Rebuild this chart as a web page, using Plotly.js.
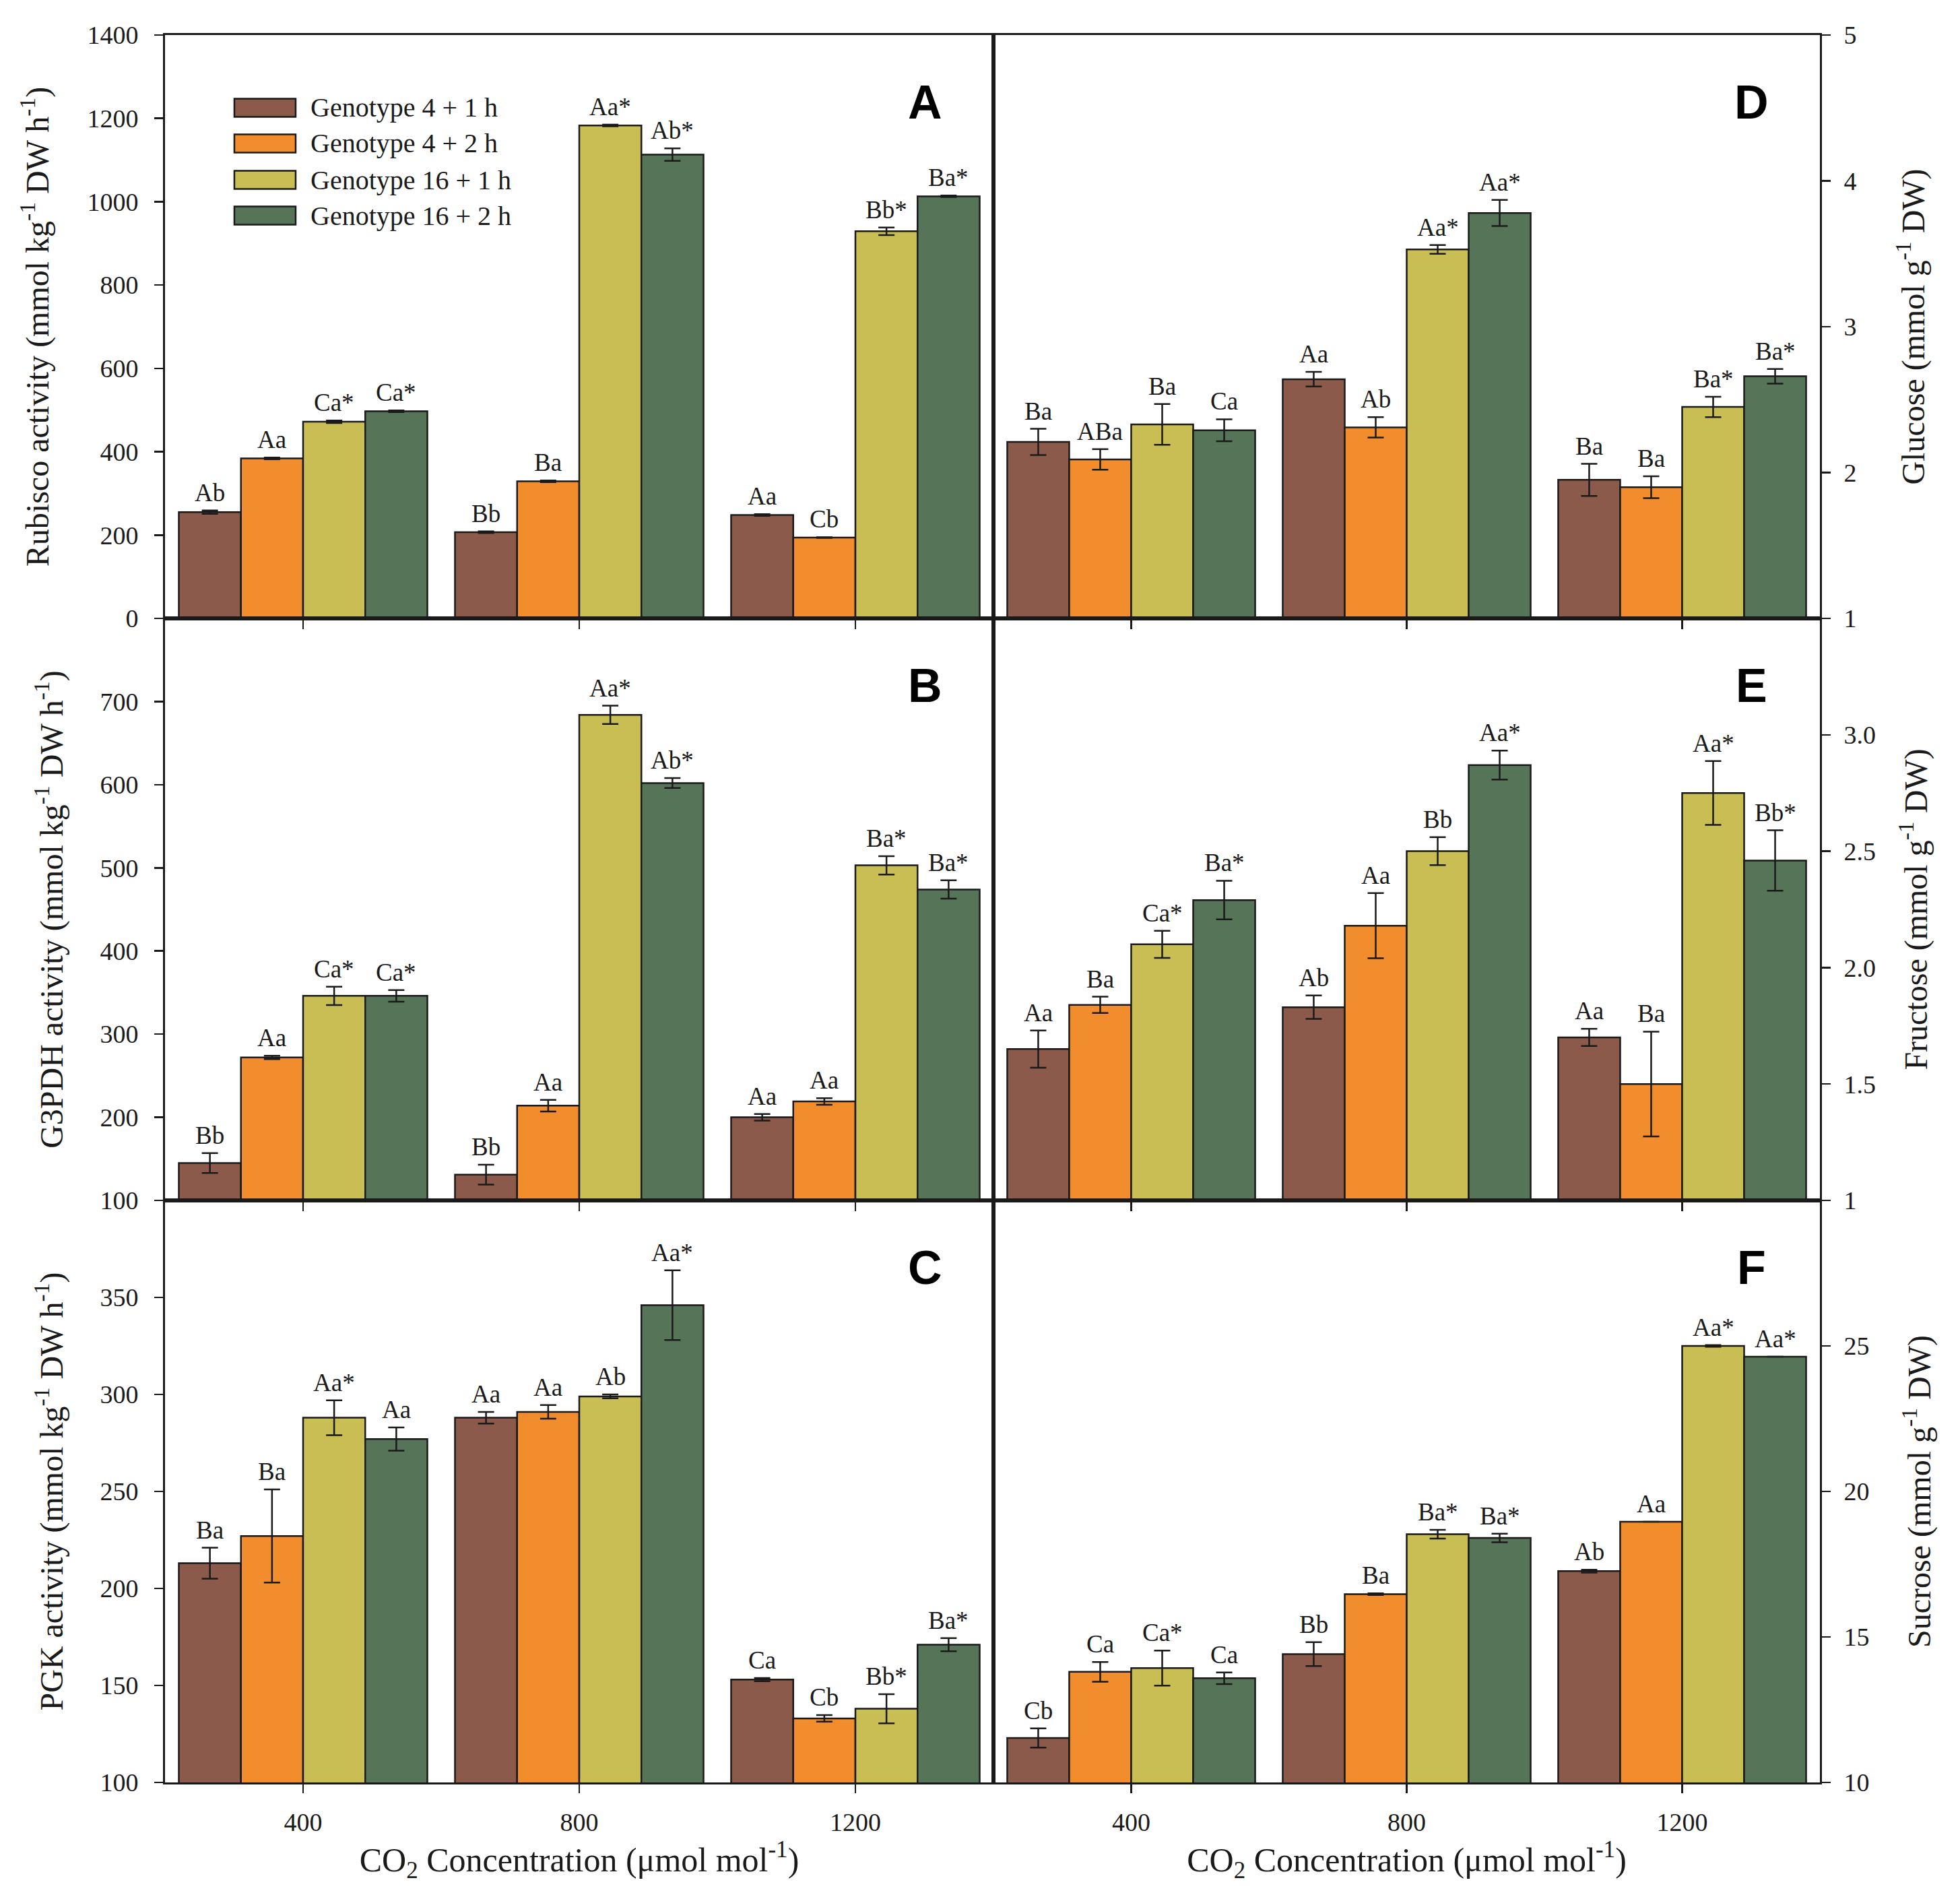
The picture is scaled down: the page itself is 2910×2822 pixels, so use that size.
<!DOCTYPE html>
<html>
<head>
<meta charset="utf-8">
<script src="https://cdn.plot.ly/plotly-3.0.1.min.js"></script>
<style>html,body{margin:0;padding:0;background:#fff;}</style>
</head>
<body>
<div id="chart" style="width:2910px;height:2822px;"></div>
<script>
// ---------------- DATA ----------------
const co2 = [400, 800, 1200];
const seriesNames = ['Genotype 4 + 1 h', 'Genotype 4 + 2 h', 'Genotype 16 + 1 h', 'Genotype 16 + 2 h'];
const seriesColors = ['#8B5A4A', '#F18D2D', '#C9BE53', '#567558'];

// A: Rubisco activity (rows = series, columns = CO2 400/800/1200)
const rubiscoMean = [[255, 207, 248], [384, 329, 194], [472, 1183, 929], [497, 1113, 1013]];
const rubiscoErr  = [[4, 2, 2], [2, 2, 1], [3, 2, 9], [2, 15, 2]];
const rubiscoLabels = [['Ab', 'Bb', 'Aa'], ['Aa', 'Ba', 'Cb'], ['Ca*', 'Aa*', 'Bb*'], ['Ca*', 'Ab*', 'Ba*']];

// B: G3PDH activity
const g3pdhMean = [[145, 131, 200], [272, 214, 219], [346, 684, 503], [346, 602, 474]];
const g3pdhErr  = [[12, 12, 4], [2, 7, 4], [11, 11, 11], [7, 6, 11]];
const g3pdhLabels = [['Bb', 'Bb', 'Aa'], ['Aa', 'Aa', 'Aa'], ['Ca*', 'Aa*', 'Ba*'], ['Ca*', 'Ab*', 'Ba*']];

// C: PGK activity
const pgkMean = [[213, 288, 153], [227, 291, 133], [288, 299, 138], [277, 346, 171]];
const pgkErr  = [[8, 3, 0.8], [24, 3.5, 1.7], [9, 1, 7.5], [6, 18, 3.4]];
const pgkLabels = [['Ba', 'Aa', 'Ca'], ['Ba', 'Aa', 'Cb'], ['Aa*', 'Ab', 'Bb*'], ['Aa', 'Aa*', 'Ba*']];

// D: Glucose
const glucoseMean = [[2.21, 2.64, 1.95], [2.09, 2.31, 1.90], [2.33, 3.53, 2.45], [2.29, 3.78, 2.66]];
const glucoseErr  = [[0.09, 0.05, 0.11], [0.07, 0.07, 0.075], [0.14, 0.03, 0.07], [0.075, 0.09, 0.05]];
const glucoseLabels = [['Ba', 'Aa', 'Ba'], ['ABa', 'Ab', 'Ba'], ['Ba', 'Aa*', 'Ba*'], ['Ca', 'Aa*', 'Ba*']];

// E: Fructose
const fructoseMean = [[1.65, 1.83, 1.70], [1.84, 2.18, 1.50], [2.10, 2.50, 2.75], [2.29, 2.87, 2.46]];
const fructoseErr  = [[0.08, 0.05, 0.037], [0.035, 0.14, 0.225], [0.058, 0.06, 0.137], [0.083, 0.062, 0.13]];
const fructoseLabels = [['Aa', 'Ab', 'Aa'], ['Ba', 'Aa', 'Ba'], ['Ca*', 'Bb', 'Aa*'], ['Ba*', 'Aa*', 'Bb*']];

// F: Sucrose
const sucroseMean = [[11.53, 14.41, 17.26], [13.80, 16.47, 18.96], [13.93, 18.53, 25.00], [13.58, 18.40, 24.63]];
const sucroseErr  = [[0.33, 0.41, 0.05], [0.34, 0.03, 0], [0.6, 0.15, 0.03], [0.2, 0.15, 0]];
const sucroseLabels = [['Cb', 'Bb', 'Ab'], ['Ca', 'Ba', 'Aa'], ['Ca*', 'Ba*', 'Aa*'], ['Ca', 'Ba*', 'Aa*']];

// Axis tick values / labels
const rubiscoTicks = [0, 200, 400, 600, 800, 1000, 1200, 1400];
const g3pdhTicks = [100, 200, 300, 400, 500, 600, 700];
const pgkTicks = [100, 150, 200, 250, 300, 350];
const glucoseTicks = [1, 2, 3, 4, 5];
const fructoseTicks = [1, 1.5, 2.0, 2.5, 3.0];
const fructoseTickText = ['1', '1.5', '2.0', '2.5', '3.0'];
const sucroseTicks = [10, 15, 20, 25];

const xTitle = 'CO<sub>2</sub> Concentration (μmol mol<sup>-1</sup>)';

// ---------------- PANELS ----------------
const panels = [
  {letter: 'A', mean: rubiscoMean, err: rubiscoErr, labels: rubiscoLabels, range: [0, 1400], tickvals: rubiscoTicks, ticktext: null,
   title: 'Rubisco activity (mmol kg<sup>-1</sup> DW h<sup>-1</sup>)', col: 0, row: 0, standoff: 42},
  {letter: 'B', mean: g3pdhMean, err: g3pdhErr, labels: g3pdhLabels, range: [100, 800], tickvals: g3pdhTicks, ticktext: null,
   title: 'G3PDH activity (mmol kg<sup>-1</sup> DW h<sup>-1</sup>)', col: 0, row: 1, standoff: 40},
  {letter: 'C', mean: pgkMean, err: pgkErr, labels: pgkLabels, range: [100, 400], tickvals: pgkTicks, ticktext: null,
   title: 'PGK activity (mmol kg<sup>-1</sup> DW h<sup>-1</sup>)', col: 0, row: 2, standoff: 40},
  {letter: 'D', mean: glucoseMean, err: glucoseErr, labels: glucoseLabels, range: [1, 5], tickvals: glucoseTicks, ticktext: null,
   title: 'Glucose (mmol g<sup>-1</sup> DW)', col: 1, row: 0, standoff: 68},
  {letter: 'E', mean: fructoseMean, err: fructoseErr, labels: fructoseLabels, range: [1, 3.5], tickvals: fructoseTicks, ticktext: fructoseTickText,
   title: 'Fructose (mmol g<sup>-1</sup> DW)', col: 1, row: 1, standoff: 44},
  {letter: 'F', mean: sucroseMean, err: sucroseErr, labels: sucroseLabels, range: [10, 30], tickvals: sucroseTicks, ticktext: null,
   title: 'Sucrose (mmol g<sup>-1</sup> DW)', col: 1, row: 2, standoff: 58}
];

const W = 2910, H = 2822;
const mL = 245, mR = 208, mT = 52, mB = 176;
const plotW = W - mL - mR, plotH = H - mT - mB;
const midPx = 1475;
const colDomains = [[0, (midPx - mL) / plotW], [(midPx - mL) / plotW, 1]];
const rowPx = [52, 918, 1782, 2646];
const rowDomains = [0, 1, 2].map(r => [(H - mB - rowPx[r + 1]) / plotH, (H - mB - rowPx[r]) / plotH]);

const serif = '"Liberation Serif", "Times New Roman", serif';
const ink = '#1a1a1a';

const traces = [];
const annotations = [];
const shapes = [];
const layout = {
  width: W, height: H,
  margin: {l: mL, r: mR, t: mT, b: mB, pad: 0},
  paper_bgcolor: '#ffffff', plot_bgcolor: '#ffffff',
  showlegend: false,
  barmode: 'group', bargap: 0.1, bargroupgap: 0,
  font: {family: serif, color: ink, size: 38}
};

panels.forEach((p, pi) => {
  const n = pi + 1;
  const xk = 'x' + (n === 1 ? '' : n), yk = 'y' + (n === 1 ? '' : n);
  const xa = 'xaxis' + (n === 1 ? '' : n), ya = 'yaxis' + (n === 1 ? '' : n);
  const bottomRow = p.row === 2;
  seriesNames.forEach((name, s) => {
    traces.push({
      type: 'bar', name: name, x: co2, y: p.mean[s], xaxis: xk, yaxis: yk,
      marker: {color: seriesColors[s], line: {color: ink, width: 2.5}},
      error_y: {type: 'data', array: p.err[s], visible: true, color: ink, thickness: 2.5, width: 12},
      showlegend: false, hoverinfo: 'skip'
    });
    co2.forEach((c, ci) => {
      annotations.push({
        xref: xk, yref: yk, x: c + (s - 1.5) * 90, y: p.mean[s][ci] + p.err[s][ci],
        text: p.labels[s][ci], showarrow: false, yanchor: 'bottom', xanchor: 'center', yshift: 4,
        font: {family: serif, size: 37, color: ink}
      });
    });
  });
  const xax = {
    domain: colDomains[p.col], anchor: yk, range: [200, 1400],
    tickvals: co2, ticktext: co2.map(String), ticks: 'outside', ticklen: 13, tickwidth: 2.5, tickcolor: ink,
    showticklabels: bottomRow, tickfont: {family: serif, size: 38, color: ink}, ticklabelstandoff: 10,
    showline: true, linecolor: ink, linewidth: 3, mirror: true, showgrid: false, zeroline: false, fixedrange: true
  };
  if (bottomRow) xax.title = {text: xTitle, font: {family: serif, size: 50, color: ink}, standoff: 16};
  layout[xa] = xax;
  const yax = {
    domain: rowDomains[p.row], anchor: xk, range: p.range, side: p.col === 0 ? 'left' : 'right',
    tickvals: p.tickvals, ticks: 'outside', ticklen: 13, tickwidth: 2.5, tickcolor: ink,
    tickfont: {family: serif, size: 38, color: ink}, ticklabelstandoff: p.col === 0 ? 16 : 12,
    showline: true, linecolor: ink, linewidth: 3, mirror: true, showgrid: false, zeroline: false, fixedrange: true,
    title: {text: p.title, font: {family: serif, size: 48, color: ink}, standoff: p.standoff}
  };
  if (p.ticktext) yax.ticktext = p.ticktext;
  layout[ya] = yax;
  // panel letter
  annotations.push({
    xref: xk + ' domain', yref: yk + ' domain', x: 1 - 102 / 1230, y: 1 - 100 / 866,
    text: '<b>' + p.letter + '</b>', showarrow: false, xanchor: 'center', yanchor: 'middle',
    font: {family: '"Liberation Sans", Arial, sans-serif', size: 70, color: '#000'}
  });
});

// legend inside panel A (built from series names & colours)
const legRowsY = [0.8753, 0.8141, 0.7517, 0.6905];
seriesNames.forEach((name, s) => {
  shapes.push({
    type: 'rect', xref: 'x domain', yref: 'y domain',
    x0: 0.0837, x1: 0.1577, y0: legRowsY[s] - 0.0156, y1: legRowsY[s] + 0.0156,
    fillcolor: seriesColors[s], line: {color: ink, width: 2.5}
  });
  annotations.push({
    xref: 'x domain', yref: 'y domain', x: 0.174, y: legRowsY[s], text: name, showarrow: false,
    xanchor: 'left', yanchor: 'middle', font: {family: serif, size: 40, color: ink}
  });
});

layout.annotations = annotations;
layout.shapes = shapes;

Plotly.newPlot('chart', traces, layout, {staticPlot: true, displayModeBar: false});
</script>
</body>
</html>
